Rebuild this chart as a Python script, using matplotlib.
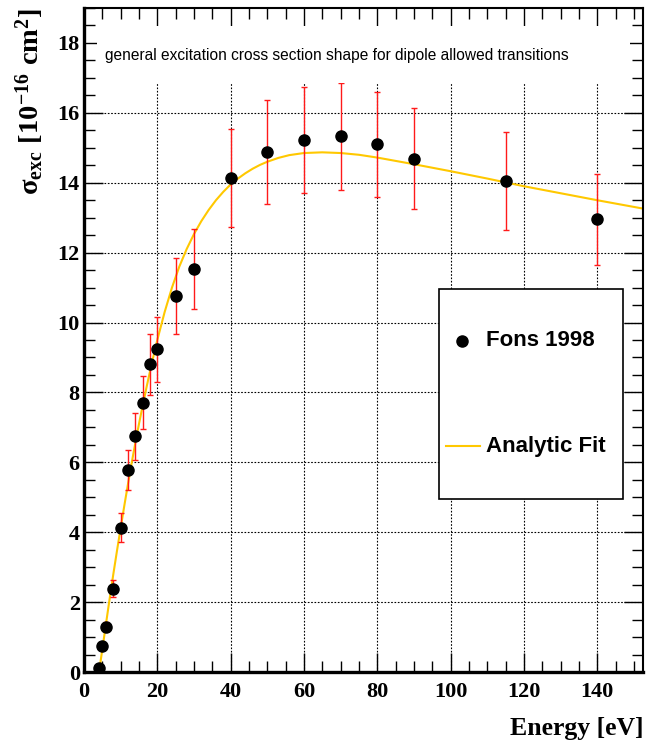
import matplotlib.pyplot as plt
from matplotlib.ticker import MultipleLocator
from matplotlib.lines import Line2D
from matplotlib.patches import Rectangle

plt.rcParams['mathtext.fontset'] = 'custom'
plt.rcParams['mathtext.rm'] = 'Liberation Serif:bold'
plt.rcParams['mathtext.bf'] = 'Liberation Serif:bold'
plt.rcParams['mathtext.it'] = 'Liberation Serif:bold'

# Fons 1998 measurements
energy = [4, 5, 6, 8, 10, 12, 14, 16, 18, 20, 25, 30, 40, 50, 60, 70, 80, 90, 115, 140]
sigma = [0.12, 0.74, 1.29, 2.38, 4.13, 5.77, 6.75, 7.71, 8.80, 9.23, 10.76, 11.53,
         14.14, 14.89, 15.22, 15.33, 15.10, 14.69, 14.05, 12.95]
sigma_err = [0.02, 0.07, 0.13, 0.24, 0.41, 0.57, 0.67, 0.77, 0.88, 0.93, 1.08, 1.15,
             1.40, 1.49, 1.52, 1.53, 1.51, 1.45, 1.40, 1.30]

# analytic fit
fit_energy = [4.1, 5, 6, 7, 8, 9, 10, 11, 12, 13, 14, 15, 16, 17, 18, 19, 20, 22, 24,
              26, 28, 30, 32, 34, 36, 38, 40, 42, 44, 46, 48, 50, 53, 56, 60, 65, 70,
              75, 80, 90, 100, 110, 115, 120, 130, 140, 152]
fit_sigma = [0.0, 0.65, 1.38, 2.1, 2.8, 3.47, 4.12, 4.76, 5.38, 5.98, 6.55, 7.1, 7.62,
             8.12, 8.6, 9.06, 9.5, 10.3, 11.0, 11.6, 12.1, 12.53, 12.9, 13.22, 13.5,
             13.74, 13.95, 14.12, 14.27, 14.4, 14.51, 14.6, 14.71, 14.79, 14.85,
             14.87, 14.85, 14.8, 14.72, 14.53, 14.33, 14.12, 14.01, 13.9, 13.7,
             13.5, 13.27]

x_major = [0, 20, 40, 60, 80, 100, 120, 140]
y_major = [0, 2, 4, 6, 8, 10, 12, 14, 16, 18]

fig = plt.figure(figsize=(6.47, 7.44), dpi=100)
ax = fig.add_axes([84 / 647, 72 / 744, 559 / 647, 664 / 744])
ax.set_xlim(0, 152.5)
ax.set_ylim(0, 19)

title_bottom = 16.86
for x in x_major[1:]:
    ax.axvline(x, ymax=title_bottom / 19, color='black', lw=0.8,
               ls=(0, (1.5, 1.5)), zorder=1)
for y in y_major[1:]:
    if y < title_bottom:
        ax.axhline(y, color='black', lw=0.8, ls=(0, (1.5, 1.5)), zorder=1)

ax.plot(fit_energy, fit_sigma, color='#FFC800', lw=1.5, zorder=2)
ax.errorbar(energy, sigma, yerr=sigma_err, fmt='o', color='black', ms=8,
            ecolor='#FF1A1A', elinewidth=1.0, capsize=2.5, capthick=1.0, zorder=3)

# title pave, white, sits over the ticks like in ROOT
ax.add_patch(Rectangle((0.023, 0.887), 0.954, 0.086, transform=ax.transAxes,
                       facecolor='white', edgecolor='none', zorder=4))
ax.text(0.038, 0.929, 'general excitation cross section shape for dipole allowed transitions',
        transform=ax.transAxes, ha='left', va='center', fontsize=11.2,
        family='Liberation Sans', zorder=5)

# legend box
ax.add_patch(Rectangle((0.635, 0.2605), 0.329, 0.3165, transform=ax.transAxes,
                       facecolor='white', edgecolor='black', lw=1.2, zorder=4))
ax.add_line(Line2D([0.676], [0.4985], marker='o', ms=8, color='black',
                   transform=ax.transAxes, zorder=5))
ax.add_line(Line2D([0.648, 0.708], [0.340, 0.340], color='#FFC800', lw=1.5,
                   transform=ax.transAxes, zorder=5))
ax.text(0.719, 0.4985, 'Fons 1998', transform=ax.transAxes, ha='left', va='center',
        fontsize=16, fontweight='bold', family='Liberation Sans', zorder=5)
ax.text(0.719, 0.340, 'Analytic Fit', transform=ax.transAxes, ha='left', va='center',
        fontsize=16, fontweight='bold', family='Liberation Sans', zorder=5)

ax.set_xticks(x_major)
ax.set_yticks(y_major)
ax.xaxis.set_minor_locator(MultipleLocator(5))
ax.yaxis.set_minor_locator(MultipleLocator(0.5))
ax.tick_params(which='both', direction='in', top=True, right=True, color='black')
ax.tick_params(which='major', length=14, width=1.0)
ax.tick_params(which='minor', length=8, width=1.0)
ax.tick_params(axis='x', pad=7)
ax.tick_params(axis='y', pad=3)
for lab in ax.get_xticklabels() + ax.get_yticklabels():
    lab.set_family('Liberation Serif')
    lab.set_fontweight('bold')
    lab.set_fontsize(16)

ax.spines['left'].set_linewidth(2.4)
ax.spines['bottom'].set_linewidth(2.4)
ax.spines['top'].set_linewidth(1.5)
ax.spines['right'].set_linewidth(1.5)

ax.set_xlabel('Energy [eV]', loc='right', family='Liberation Serif',
              fontweight='bold', fontsize=18.5, labelpad=11)
ax.set_ylabel(r'$\mathrm{σ}_{\mathbf{exc}}\ \mathbf{[10^{-16}\ cm^{2}]}$', loc='top',
              fontsize=20.5, labelpad=8)

fig.savefig('out.png', dpi=100)
